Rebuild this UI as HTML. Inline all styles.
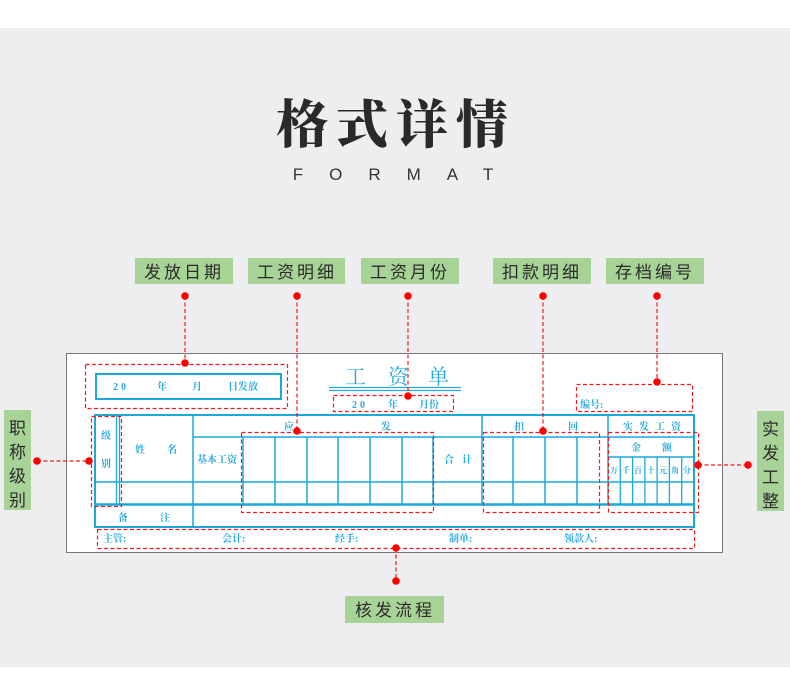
<!DOCTYPE html>
<html><head><meta charset="utf-8"><style>
html,body{margin:0;padding:0;background:#fff;}
svg{display:block;}
.s{font-family:"Liberation Serif","Noto Serif CJK SC",serif;fill:#27a9dc;}
.g{font-family:"Liberation Sans","Noto Sans CJK SC",sans-serif;fill:#2b2b2b;}
</style></head><body>
<svg width="790" height="678" viewBox="0 0 790 678" xmlns="http://www.w3.org/2000/svg">
<rect x="0" y="0" width="790" height="678" fill="#fff"/>
<rect x="0" y="28" width="790" height="639" fill="#eeeef0"/>
<!-- title -->
<text x="396" y="143" text-anchor="middle" font-family="'Noto Serif CJK SC','Noto Sans CJK SC',serif" font-weight="900" font-size="52" fill="#2a2a2a" letter-spacing="8">格式详情</text>
<text x="406" y="180" text-anchor="middle" font-family="'Liberation Sans',sans-serif" font-size="17" fill="#333" letter-spacing="26">FORMAT</text>

<!-- labels -->
<g font-size="17" class="g">
<rect x="135" y="258" width="98" height="26" fill="#a8d396"/><text x="184" y="278" text-anchor="middle" class="g" letter-spacing="3">发放日期</text>
<rect x="248" y="258" width="97" height="26" fill="#a8d396"/><text x="297" y="278" text-anchor="middle" class="g" letter-spacing="3">工资明细</text>
<rect x="361" y="258" width="98" height="26" fill="#a8d396"/><text x="410" y="278" text-anchor="middle" class="g" letter-spacing="3">工资月份</text>
<rect x="493" y="258" width="98" height="26" fill="#a8d396"/><text x="542" y="278" text-anchor="middle" class="g" letter-spacing="3">扣款明细</text>
<rect x="606" y="258" width="98" height="26" fill="#a8d396"/><text x="655" y="278" text-anchor="middle" class="g" letter-spacing="3">存档编号</text>
<rect x="345" y="596" width="99" height="27" fill="#a8d396"/><text x="395" y="616" text-anchor="middle" class="g" letter-spacing="3">核发流程</text>
<rect x="4" y="410" width="27" height="100" fill="#a8d396"/>
<text class="g" x="17.5" y="434" text-anchor="middle">职</text><text class="g" x="17.5" y="458" text-anchor="middle">称</text><text class="g" x="17.5" y="482" text-anchor="middle">级</text><text class="g" x="17.5" y="506" text-anchor="middle">别</text>
<rect x="757" y="411" width="27" height="100" fill="#a8d396"/>
<text class="g" x="770.5" y="435" text-anchor="middle">实</text><text class="g" x="770.5" y="459" text-anchor="middle">发</text><text class="g" x="770.5" y="483" text-anchor="middle">工</text><text class="g" x="770.5" y="507" text-anchor="middle">整</text>
</g>

<!-- card -->
<rect x="66.5" y="353.5" width="656" height="199" fill="#fff" stroke="#777" stroke-width="1"/>

<!-- title in card -->
<text x="345" y="384" class="s" font-size="21">工</text>
<text x="388" y="384" class="s" font-size="21">资</text>
<text x="428" y="384" class="s" font-size="21">单</text>
<line x1="329" y1="387.5" x2="461" y2="387.5" stroke="#27a9dc" stroke-width="1.2"/>
<line x1="329" y1="390.5" x2="461" y2="390.5" stroke="#27a9dc" stroke-width="1.2"/>

<!-- date box -->
<rect x="96" y="374" width="185" height="25" fill="none" stroke="#1ba8dc" stroke-width="2"/>
<g class="s" font-size="10" font-weight="bold">
<text x="113" y="390" letter-spacing="3">20</text><text x="157" y="390">年</text><text x="192" y="390">月</text><text x="228" y="390">日发放</text>
<text x="352" y="408" letter-spacing="3">20</text><text x="388" y="408">年</text><text x="419" y="408">月份</text>
<text x="580" y="408">编号:</text>
</g>

<!-- table -->
<g stroke="#1ba8dc" fill="none">
<rect x="95" y="415" width="599" height="112" stroke-width="2"/>
<line x1="95" y1="482" x2="694" y2="482" stroke-width="1.5"/>
<line x1="95" y1="504.5" x2="694" y2="504.5" stroke-width="2.5"/>
<line x1="116.5" y1="415" x2="116.5" y2="504" stroke-width="1.3"/>
<line x1="119.5" y1="415" x2="119.5" y2="504" stroke-width="1.3"/>
<line x1="193" y1="415" x2="193" y2="527" stroke-width="1.5"/>
<line x1="193" y1="437" x2="694" y2="437" stroke-width="1.5"/>
<line x1="243" y1="437" x2="243" y2="504" stroke-width="1.5"/>
<line x1="275" y1="437" x2="275" y2="504" stroke-width="1.5"/>
<line x1="307" y1="437" x2="307" y2="504" stroke-width="1.5"/>
<line x1="338" y1="437" x2="338" y2="504" stroke-width="1.5"/>
<line x1="370" y1="437" x2="370" y2="504" stroke-width="1.5"/>
<line x1="402" y1="437" x2="402" y2="504" stroke-width="1.5"/>
<line x1="433" y1="437" x2="433" y2="504" stroke-width="1.5"/>
<line x1="482" y1="415" x2="482" y2="504" stroke-width="1.5"/>
<line x1="513" y1="437" x2="513" y2="504" stroke-width="1.5"/>
<line x1="545" y1="437" x2="545" y2="504" stroke-width="1.5"/>
<line x1="577" y1="437" x2="577" y2="504" stroke-width="1.5"/>
<line x1="608" y1="415" x2="608" y2="504" stroke-width="1.5"/>
<line x1="608" y1="457" x2="694" y2="457" stroke-width="1.5"/>
<line x1="620.3" y1="457" x2="620.3" y2="504" stroke-width="1.3"/>
<line x1="632.6" y1="457" x2="632.6" y2="504" stroke-width="1.3"/>
<line x1="644.9" y1="457" x2="644.9" y2="504" stroke-width="1.3"/>
<line x1="657.1" y1="457" x2="657.1" y2="504" stroke-width="1.3"/>
<line x1="669.4" y1="457" x2="669.4" y2="504" stroke-width="1.3"/>
<line x1="681.7" y1="457" x2="681.7" y2="504" stroke-width="1.3"/>
</g>
<g class="s" font-size="10" font-weight="bold">
<text x="101" y="439">级</text><text x="101" y="467">别</text>
<text x="135" y="453">姓</text><text x="167" y="453">名</text>
<text x="197" y="463">基本工资</text>
<text x="284" y="430">应</text><text x="381" y="430">发</text>
<text x="444" y="463">合</text><text x="462" y="463">计</text>
<text x="514" y="430">扣</text><text x="568" y="430">回</text>
<text x="623" y="430" letter-spacing="6">实发工资</text>
<text x="631" y="451">金</text><text x="662" y="451">额</text>
<text x="118" y="521">备</text><text x="160" y="521">注</text>
<text x="103" y="542">主管:</text><text x="222" y="542">会计:</text><text x="335" y="542">经手:</text><text x="449" y="542">制单:</text><text x="564" y="542">领款人:</text>
</g>
<g class="s" font-size="8" font-weight="bold">
<text x="610" y="473">万</text><text x="622" y="473">千</text><text x="634" y="473">百</text><text x="647" y="473">十</text><text x="659" y="473">元</text><text x="671" y="473">角</text><text x="683" y="473">分</text>
</g>

<!-- red dashed boxes & connectors -->
<g stroke="#ee1c1c" fill="none" stroke-width="1.2" stroke-dasharray="4,2.5">
<rect x="85.5" y="364.5" width="202" height="44"/>
<rect x="333.5" y="395.5" width="120" height="16"/>
<rect x="576.5" y="384.5" width="116" height="27"/>
<rect x="91.5" y="416.5" width="30" height="90"/>
<rect x="241.5" y="432.5" width="192" height="80"/>
<rect x="483.5" y="432.5" width="116" height="80"/>
<rect x="608.5" y="432.5" width="90" height="80"/>
<rect x="97.5" y="529.5" width="597" height="19"/>
<line x1="185" y1="296" x2="185" y2="363"/>
<line x1="297" y1="296" x2="297" y2="431"/>
<line x1="408" y1="296" x2="408" y2="396"/>
<line x1="543" y1="296" x2="543" y2="431"/>
<line x1="657" y1="296" x2="657" y2="382"/>
<line x1="37" y1="461" x2="89" y2="461"/>
<line x1="698" y1="465" x2="748" y2="465"/>
<line x1="396" y1="548" x2="396" y2="581"/>
</g>
<g fill="#ff0000">
<circle cx="185" cy="296" r="3.8"/><circle cx="185" cy="363" r="3.8"/>
<circle cx="297" cy="296" r="3.8"/><circle cx="297" cy="431" r="3.8"/>
<circle cx="408" cy="296" r="3.8"/><circle cx="408" cy="396" r="3.8"/>
<circle cx="543" cy="296" r="3.8"/><circle cx="543" cy="431" r="3.8"/>
<circle cx="657" cy="296" r="3.8"/><circle cx="657" cy="382" r="3.8"/>
<circle cx="37" cy="461" r="3.8"/><circle cx="89" cy="461" r="3.8"/>
<circle cx="698" cy="465" r="3.8"/><circle cx="748" cy="465" r="3.8"/>
<circle cx="396" cy="548" r="3.8"/><circle cx="396" cy="581" r="3.8"/>
</g>
</svg>
</body></html>
